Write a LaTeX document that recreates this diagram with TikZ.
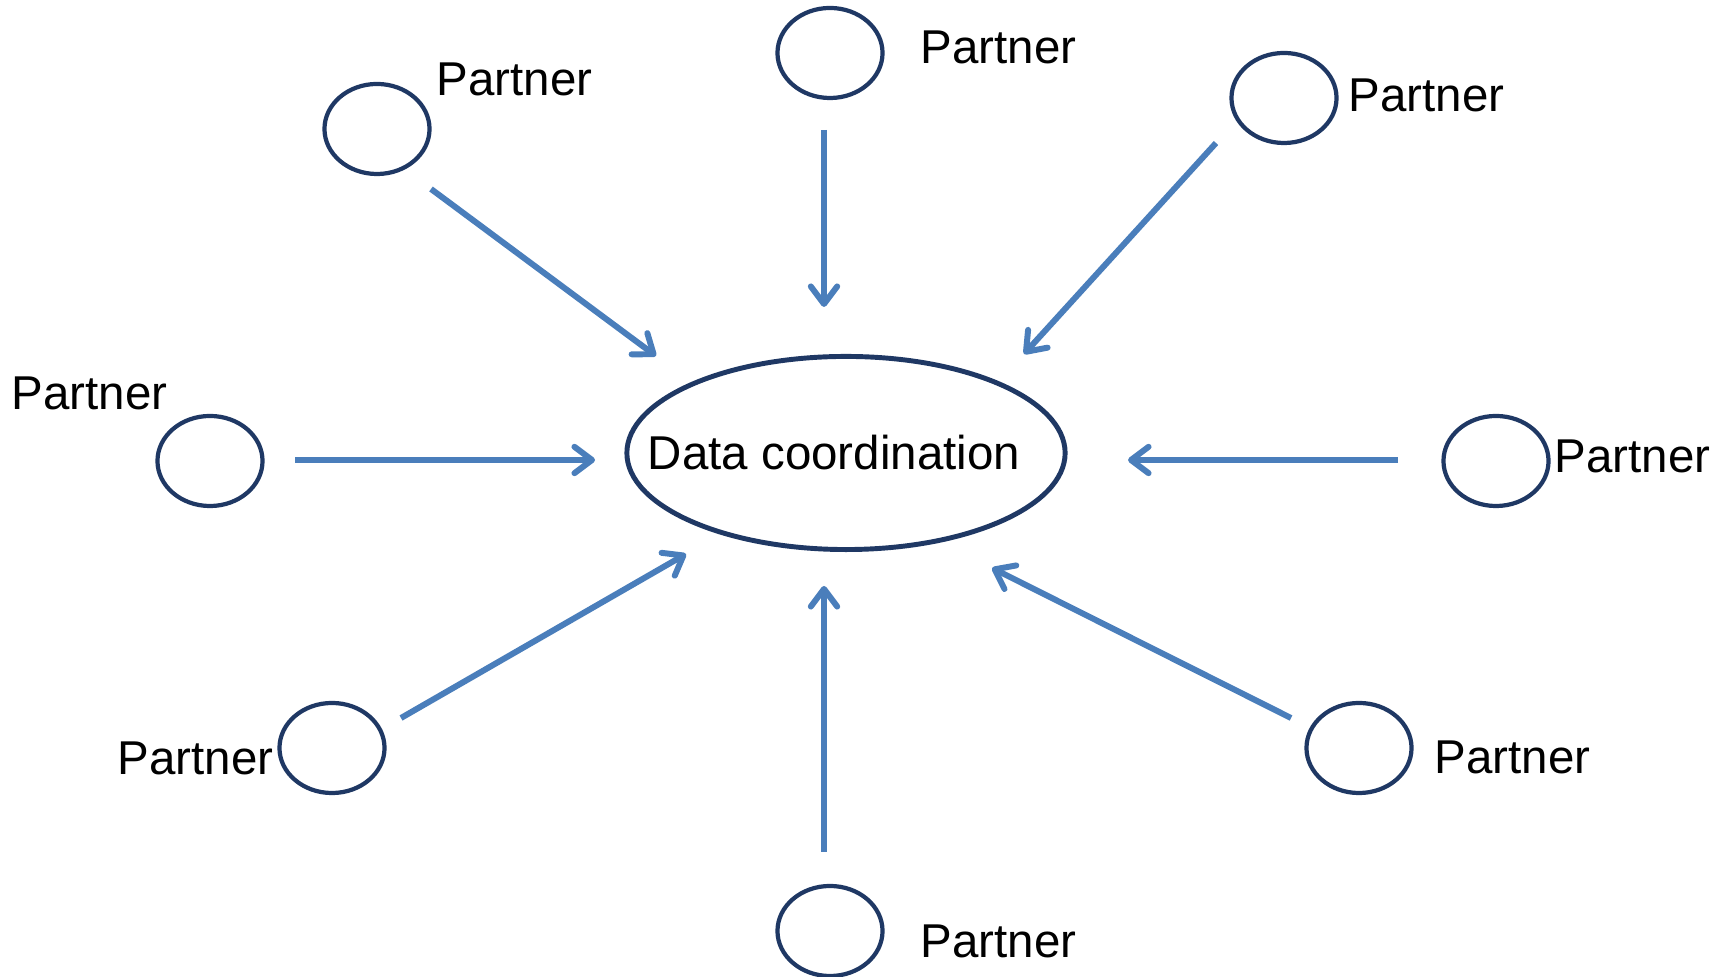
\documentclass[tikz,border=0pt]{standalone}
\usepackage{fontspec}
\setmainfont{Liberation Sans}
\usetikzlibrary{shapes.geometric,arrows.meta,calc}
\definecolor{navy}{HTML}{1F3864}
\definecolor{flowblue}{HTML}{4A7EBB}
\tikzset{
  partner/.style={ellipse,draw=navy,line width=1.2pt,minimum width=1.05cm,minimum height=0.9cm,inner sep=0pt},
  hubnode/.style={ellipse,draw=navy,line width=1.4pt,minimum width=4.38cm,minimum height=1.93cm,inner xsep=-0.6cm,inner ysep=0pt},
  tag/.style={anchor=west,inner sep=0pt,font=\fontsize{13.5}{16}\selectfont},
  flow/.style={draw=flowblue,line width=1.7pt,-{Straight Barb[length=5pt,width=7.5pt,round]}}
}
\begin{document}
\begin{tikzpicture}[x=0.01cm,y=-0.01cm]
      \useasboundingbox (0,0) rectangle (1727,977);
      \node[hubnode,font=\fontsize{13.5}{16}\selectfont] (hub) at (846,453) {Data coordination\hspace*{0.24cm}};
      \draw
        (377,129) node[partner] (p1){}
        (830,53) node[partner] (p2){}
        (1284,98) node[partner] (p3){}
        (210,461) node[partner] (p4){}
        (1496,461) node[partner] (p5){}
        (332,748) node[partner] (p6){}
        (1359,748) node[partner] (p7){}
        (830,931) node[partner] (p8){};
      \draw
        (436,79) node[tag] (l1){Partner}
        (920,47) node[tag] (l2){Partner}
        (1348,95) node[tag] (l3){Partner}
        (11,393) node[tag] (l4){Partner}
        (1554,456) node[tag] (l5){Partner}
        (117,758) node[tag] (l6){Partner}
        (1434,757) node[tag] (l7){Partner}
        (920,941) node[tag] (l8){Partner};
      \begin{scope}[flow]
        \draw ($(p1)+(54,60)$) to ($(hub)+(-190,-97)$);
        \draw ($(p2)+(-6,77)$) to ($(hub)+(-22,-146)$);
        \draw ($(p3)+(-68,45)$) to ($(hub)+(178,-99)$);
        \draw ($(p4)+(85,-1)$) to ($(hub)+(-251,7)$);
        \draw ($(p5)+(-98,-1)$) to ($(hub)+(282,7)$);
        \draw ($(p6)+(69,-30)$) to ($(hub)+(-160,101)$);
        \draw ($(p7)+(-68,-30)$) to ($(hub)+(146,115)$);
        \draw ($(p8)+(-6,-79)$) to ($(hub)+(-22,133)$);
      \end{scope}
    \end{tikzpicture}
\end{document}
